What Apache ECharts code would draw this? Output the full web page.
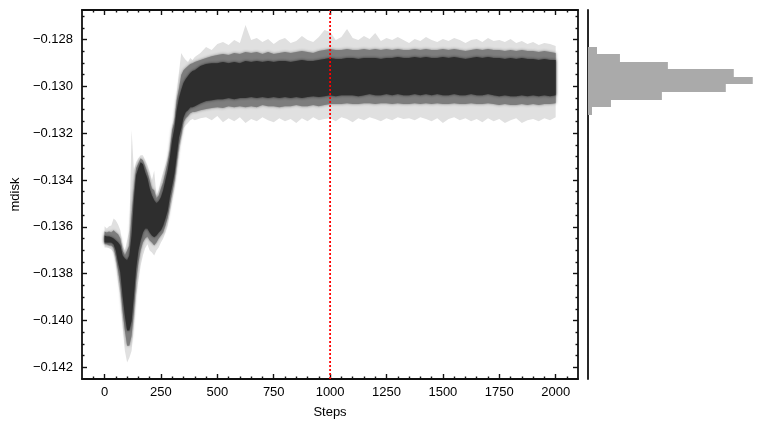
<!DOCTYPE html>
<html>
<head>
<meta charset="utf-8">
<script src="https://cdn.jsdelivr.net/npm/echarts@6/dist/echarts.min.js"></script>
<style>
html, body { margin: 0; background: #fff; }
#chart { width: 771px; height: 431px; }
</style>
</head>
<body>
<div id="chart"></div>
<script>
// sampled steps (fine at the start, coarser on the plateau)
const steps = [0, 10, 20, 30, 40, 50, 60, 70, 80, 90, 100, 110, 120, 130, 140, 150, 160, 170, 180, 190,
    200, 210, 220, 230, 240, 250, 260, 270, 280, 290, 300, 310, 320, 330, 340, 350, 360, 370, 380, 390, 400,
    425, 450, 475, 500, 525, 550, 575, 600, 625, 650, 675, 700, 725, 750, 775, 800, 825, 850, 875, 900,
    925, 950, 975, 1000, 1025, 1050, 1075, 1100, 1125, 1150, 1175, 1200, 1225, 1250, 1275, 1300, 1325,
    1350, 1375, 1400, 1425, 1450, 1475, 1500, 1525, 1550, 1575, 1600, 1625, 1650, 1675, 1700, 1725, 1750,
    1775, 1800, 1825, 1850, 1875, 1900, 1925, 1950, 1975, 2000];

// walker envelope: extremes of all walkers (light)
const outerHi = [-0.13598, -0.13607, -0.13598, -0.13594, -0.13564, -0.13573, -0.13590, -0.13615, -0.13680, -0.13701,
    -0.13658, -0.13615, -0.13187, -0.13359, -0.13324, -0.13307, -0.13294, -0.13294, -0.13316, -0.13337,
    -0.13367, -0.13401, -0.13359, -0.13466, -0.13444, -0.13401, -0.13367, -0.13337, -0.13303, -0.13252,
    -0.13166, -0.13136, -0.13025, -0.12939, -0.12858, -0.12875, -0.12888, -0.12896, -0.12879, -0.12888,
    -0.12875,
    -0.12858, -0.12832, -0.12845, -0.12819, -0.12811, -0.12824, -0.12802, -0.12815,
    -0.12738, -0.12802, -0.12794, -0.12811, -0.12798, -0.12819, -0.12802, -0.12794,
    -0.12815, -0.12806, -0.12785, -0.12802, -0.12811, -0.12789, -0.12759, -0.12768,
    -0.12802, -0.12789, -0.12755, -0.12794, -0.12802, -0.12785, -0.12798, -0.12772,
    -0.12806, -0.12794, -0.12802, -0.12789, -0.12802, -0.12815, -0.12798, -0.12806,
    -0.12789, -0.12802, -0.12811, -0.12798, -0.12806, -0.12794, -0.12802, -0.12815,
    -0.12802, -0.12798, -0.12811, -0.12794, -0.12806, -0.12802, -0.12811, -0.12798,
    -0.12815, -0.12806, -0.12819, -0.12811, -0.12824, -0.12815, -0.12819, -0.12828];
const outerLo = [-0.13688, -0.13688, -0.13692, -0.13697, -0.13710, -0.13752, -0.13838, -0.13894, -0.14022, -0.14129,
    -0.14180, -0.14159, -0.14129, -0.14022, -0.13894, -0.13829, -0.13765, -0.13722, -0.13692, -0.13675,
    -0.13701, -0.13710, -0.13722, -0.13701, -0.13688, -0.13667, -0.13650, -0.13624, -0.13594, -0.13538,
    -0.13487, -0.13436, -0.13359, -0.13281, -0.13230, -0.13179, -0.13166, -0.13157, -0.13145, -0.13140,
    -0.13145,
    -0.13136, -0.13132, -0.13145, -0.13127, -0.13153, -0.13136, -0.13149, -0.13132,
    -0.13157, -0.13140, -0.13149, -0.13132, -0.13145, -0.13153, -0.13136, -0.13149,
    -0.13140, -0.13157, -0.13136, -0.13149, -0.13132, -0.13145, -0.13140, -0.13136,
    -0.13149, -0.13132, -0.13140, -0.13153, -0.13136, -0.13145, -0.13132, -0.13140,
    -0.13149, -0.13136, -0.13145, -0.13132, -0.13140, -0.13136, -0.13145, -0.13132,
    -0.13140, -0.13149, -0.13136, -0.13157, -0.13140, -0.13132, -0.13145, -0.13136,
    -0.13149, -0.13140, -0.13153, -0.13136, -0.13149, -0.13140, -0.13157, -0.13145,
    -0.13136, -0.13157, -0.13145, -0.13140, -0.13149, -0.13136, -0.13145, -0.13132];

// where most walkers sit (mid grey)
const midHi = [-0.13620, -0.13624, -0.13620, -0.13624, -0.13615, -0.13624, -0.13632, -0.13650, -0.13701, -0.13722,
    -0.13701, -0.13680, -0.13551, -0.13444, -0.13350, -0.13329, -0.13307, -0.13316, -0.13341, -0.13367,
    -0.13401, -0.13436, -0.13444, -0.13478, -0.13466, -0.13436, -0.13410, -0.13367, -0.13324, -0.13273,
    -0.13187, -0.13153, -0.13059, -0.13008, -0.12952, -0.12931, -0.12922, -0.12913, -0.12905, -0.12901,
    -0.12896,
    -0.12888, -0.12879, -0.12871, -0.12866, -0.12862, -0.12866, -0.12858, -0.12862,
    -0.12853, -0.12858, -0.12853, -0.12862, -0.12853, -0.12862, -0.12858, -0.12853,
    -0.12858, -0.12853, -0.12849, -0.12853, -0.12858, -0.12849, -0.12845, -0.12841,
    -0.12845, -0.12845, -0.12841, -0.12845, -0.12845, -0.12841, -0.12845, -0.12841,
    -0.12845, -0.12841, -0.12845, -0.12841, -0.12845, -0.12845, -0.12841, -0.12845,
    -0.12841, -0.12845, -0.12845, -0.12841, -0.12845, -0.12841, -0.12845, -0.12849,
    -0.12845, -0.12841, -0.12845, -0.12841, -0.12845, -0.12845, -0.12849, -0.12845,
    -0.12849, -0.12845, -0.12849, -0.12849, -0.12853, -0.12849, -0.12853, -0.12858];
const midLo = [-0.13675, -0.13675, -0.13680, -0.13680, -0.13688, -0.13727, -0.13787, -0.13851, -0.13958, -0.14043,
    -0.14108, -0.14108, -0.14065, -0.13958, -0.13829, -0.13752, -0.13701, -0.13667, -0.13650, -0.13641,
    -0.13658, -0.13667, -0.13680, -0.13667, -0.13650, -0.13637, -0.13624, -0.13594, -0.13560, -0.13504,
    -0.13453, -0.13401, -0.13324, -0.13252, -0.13209, -0.13153, -0.13136, -0.13127, -0.13115, -0.13110,
    -0.13110,
    -0.13102, -0.13097, -0.13093, -0.13089, -0.13093, -0.13085, -0.13089, -0.13085,
    -0.13089, -0.13085, -0.13089, -0.13080, -0.13085, -0.13085, -0.13089, -0.13085,
    -0.13085, -0.13080, -0.13085, -0.13085, -0.13080, -0.13085, -0.13080, -0.13076,
    -0.13076, -0.13076, -0.13072, -0.13076, -0.13076, -0.13072, -0.13072, -0.13076,
    -0.13072, -0.13072, -0.13076, -0.13072, -0.13076, -0.13076, -0.13072, -0.13076,
    -0.13072, -0.13076, -0.13072, -0.13076, -0.13076, -0.13072, -0.13076, -0.13076,
    -0.13072, -0.13076, -0.13076, -0.13072, -0.13076, -0.13080, -0.13076, -0.13080,
    -0.13080, -0.13076, -0.13080, -0.13076, -0.13080, -0.13076, -0.13076, -0.13072];

// dense core of the walkers (dark)
const coreHi = [-0.13637, -0.13641, -0.13641, -0.13645, -0.13650, -0.13658, -0.13667, -0.13680, -0.13722, -0.13735,
    -0.13744, -0.13722, -0.13637, -0.13487, -0.13380, -0.13350, -0.13324, -0.13333, -0.13367, -0.13393,
    -0.13436, -0.13466, -0.13487, -0.13500, -0.13491, -0.13474, -0.13444, -0.13401, -0.13359, -0.13303,
    -0.13230, -0.13179, -0.13102, -0.13050, -0.13016, -0.12986, -0.12969, -0.12956, -0.12943, -0.12935,
    -0.12931,
    -0.12913, -0.12905, -0.12901, -0.12901, -0.12896, -0.12901, -0.12896, -0.12901,
    -0.12892, -0.12896, -0.12892, -0.12896, -0.12892, -0.12896, -0.12892, -0.12892,
    -0.12896, -0.12892, -0.12888, -0.12892, -0.12892, -0.12888, -0.12883, -0.12879,
    -0.12883, -0.12883, -0.12879, -0.12879, -0.12883, -0.12879, -0.12879, -0.12879,
    -0.12883, -0.12879, -0.12879, -0.12875, -0.12879, -0.12879, -0.12875, -0.12879,
    -0.12875, -0.12879, -0.12879, -0.12875, -0.12879, -0.12875, -0.12879, -0.12883,
    -0.12879, -0.12875, -0.12879, -0.12875, -0.12879, -0.12879, -0.12883, -0.12879,
    -0.12883, -0.12879, -0.12883, -0.12883, -0.12888, -0.12883, -0.12888, -0.12888];
const coreLo = [-0.13667, -0.13667, -0.13667, -0.13667, -0.13675, -0.13701, -0.13752, -0.13795, -0.13894, -0.13979,
    -0.14043, -0.14043, -0.14001, -0.13894, -0.13778, -0.13701, -0.13658, -0.13624, -0.13607, -0.13607,
    -0.13624, -0.13637, -0.13645, -0.13637, -0.13624, -0.13615, -0.13594, -0.13564, -0.13530, -0.13470,
    -0.13423, -0.13371, -0.13294, -0.13217, -0.13179, -0.13132, -0.13110, -0.13102, -0.13089, -0.13089,
    -0.13085,
    -0.13072, -0.13063, -0.13059, -0.13055, -0.13055, -0.13050, -0.13055, -0.13050,
    -0.13050, -0.13046, -0.13050, -0.13046, -0.13050, -0.13046, -0.13050, -0.13046,
    -0.13050, -0.13046, -0.13050, -0.13046, -0.13042, -0.13046, -0.13042, -0.13038,
    -0.13042, -0.13038, -0.13038, -0.13038, -0.13042, -0.13038, -0.13033, -0.13038,
    -0.13038, -0.13033, -0.13038, -0.13033, -0.13038, -0.13038, -0.13033, -0.13038,
    -0.13033, -0.13038, -0.13033, -0.13038, -0.13038, -0.13033, -0.13038, -0.13038,
    -0.13033, -0.13038, -0.13038, -0.13033, -0.13038, -0.13042, -0.13038, -0.13042,
    -0.13042, -0.13038, -0.13042, -0.13038, -0.13042, -0.13038, -0.13042, -0.13038];

// histogram of the post burn-in samples (bin edges top -> bottom)
const histEdges = [-0.12830, -0.12862, -0.12895, -0.12927, -0.12959, -0.12992, -0.13024, -0.13057, -0.13089, -0.13121];
const histCounts = [9, 32, 80, 146, 165, 138, 74, 23, 4];

const burnIn = 1000;
const xTicks = [0, 250, 500, 750, 1000, 1250, 1500, 1750, 2000];
const yTicks = [-0.142, -0.140, -0.138, -0.136, -0.134, -0.132, -0.130, -0.128];
const xRange = [-100, 2099];
const yRange = [-0.1425, -0.12674];

// minor ticks
const xMinor = [];
for (let s = -50; s <= 2050; s += 50) if (s % 250 !== 0) xMinor.push(s);
const yMinor = [];
for (let k = -284; k <= -254; k++) if (k % 4 !== 0) yMinor.push(+(k * 0.0005).toFixed(4));

const ink = '#111';
const font = { fontFamily: 'Liberation Sans', fontSize: 13, color: '#000' };
const noLine = { show: false, onZero: false };
const spine = { show: true, onZero: false, lineStyle: { color: ink, width: 1.8 } };

function xAx(pos, ticks, len, opts) {
    return Object.assign({
        type: 'value', gridIndex: 0, position: pos, min: xRange[0], max: xRange[1],
        splitLine: { show: false },
        axisLine: noLine,
        axisTick: { show: true, inside: true, length: len, customValues: ticks, lineStyle: { color: ink, width: 1.4 } },
        axisLabel: { show: false }
    }, opts || {});
}
function yAx(pos, ticks, len, opts) {
    return Object.assign({
        type: 'value', gridIndex: 0, position: pos, min: yRange[0], max: yRange[1],
        splitLine: { show: false },
        axisLine: noLine,
        axisTick: { show: true, inside: true, length: len, customValues: ticks, lineStyle: { color: ink, width: 1.4 } },
        axisLabel: { show: false }
    }, opts || {});
}

// one polygon per envelope layer, soft edge via blur
function band(hi, lo, color, z, blur) {
    return {
        type: 'custom', xAxisIndex: 0, yAxisIndex: 0, z: z, silent: true,
        data: [[steps[0], hi[0]]],
        renderItem: function (params, api) {
            const pts = [];
            for (let i = 0; i < steps.length; i++) pts.push(api.coord([steps[i], hi[i]]));
            for (let i = steps.length - 1; i >= 0; i--) pts.push(api.coord([steps[i], lo[i]]));
            return {
                type: 'polygon', shape: { points: pts },
                style: { fill: color, shadowBlur: blur, shadowColor: color }
            };
        }
    };
}

const chart = echarts.init(document.getElementById('chart'), null, { renderer: 'canvas' });
chart.setOption({
    animation: false,
    backgroundColor: '#fff',
    grid: [
        { left: 82, top: 10, width: 496, height: 369 },
        { left: 588, top: 10, width: 173, height: 369 }
    ],
    xAxis: [
        xAx('bottom', xTicks, 5, {
            axisLine: spine,
            axisLabel: Object.assign({ show: true, margin: 7, customValues: xTicks, formatter: v => String(v) }, font),
            name: 'Steps', nameLocation: 'middle', nameGap: 27, nameTextStyle: font
        }),
        xAx('bottom', xMinor, 2.5),
        xAx('top', xTicks, 5, { axisLine: spine }),
        xAx('top', xMinor, 2.5),
        { type: 'value', gridIndex: 1, min: 0, max: 173.25, show: false }
    ],
    yAxis: [
        yAx('left', yTicks, 5, {
            axisLine: spine,
            axisLabel: Object.assign({
                show: true, margin: 9, customValues: yTicks,
                formatter: v => v.toFixed(3).replace('-', '\u2212')
            }, font),
            name: 'mdisk', nameLocation: 'middle', nameGap: 56, nameRotate: 90, nameTextStyle: font
        }),
        yAx('left', yMinor, 2.5),
        yAx('right', yTicks, 5, { axisLine: spine }),
        yAx('right', yMinor, 2.5),
        {
            type: 'value', gridIndex: 1, min: yRange[0], max: yRange[1],
            axisLine: { show: true, onZero: false, lineStyle: { color: ink, width: 1.8 } },
            axisTick: { show: false }, axisLabel: { show: false }, splitLine: { show: false }
        }
    ],
    series: [
        band(outerHi, outerLo, '#e0e0e0', 1, 0),
        band(midHi, midLo, '#7d7d7d', 2, 3),
        band(coreHi, coreLo, '#2e2e2e', 3, 3),
        {
            // burn-in marker
            type: 'custom', xAxisIndex: 0, yAxisIndex: 0, z: 5, silent: true,
            data: [[burnIn, yRange[0]]],
            renderItem: function (params, api) {
                const a = api.coord([api.value(0), yRange[0]]);
                const b = api.coord([api.value(0), yRange[1]]);
                return {
                    type: 'line',
                    shape: { x1: a[0], y1: a[1], x2: b[0], y2: b[1] },
                    style: { stroke: '#ff0000', lineWidth: 1.8, lineDash: [2, 2] }
                };
            }
        },
        {
            type: 'custom', xAxisIndex: 4, yAxisIndex: 4, silent: true,
            data: histCounts.map((c, i) => [c, histEdges[i], histEdges[i + 1]]),
            renderItem: function (params, api) {
                const top = api.coord([0, api.value(1)]);
                const bot = api.coord([api.value(0), api.value(2)]);
                const y0 = Math.round(top[1]), y1 = Math.round(bot[1]);
                return {
                    type: 'rect',
                    shape: { x: top[0], y: y0, width: bot[0] - top[0], height: y1 - y0 },
                    style: { fill: '#aaaaaa' }
                };
            }
        }
    ]
});
</script>
</body>
</html>
